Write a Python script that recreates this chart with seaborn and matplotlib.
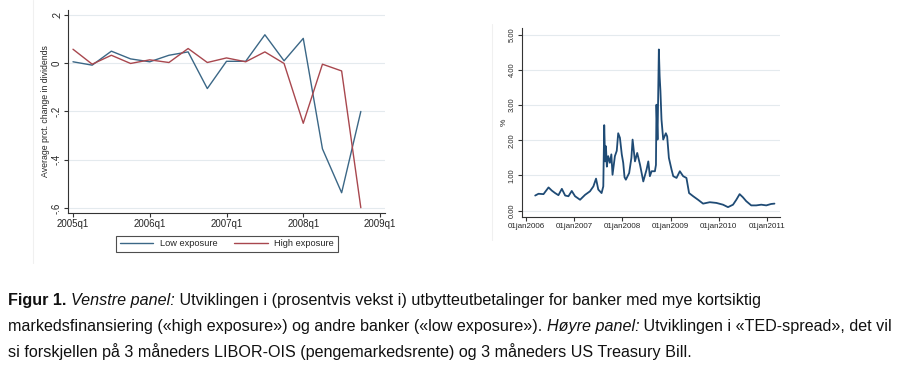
import numpy as np
import pandas as pd
import seaborn as sns
import matplotlib.pyplot as plt
import matplotlib.dates as mdates
from matplotlib.ticker import FuncFormatter
from matplotlib.lines import Line2D

# venstre panel: kvartalsvis endring i utbytte
quarters = list(range(16))  # 2005q1 .. 2008q4
low_exposure = [0.006, -0.008, 0.050, 0.018, 0.006, 0.033, 0.047, -0.105,
                0.008, 0.008, 0.118, 0.010, 0.103, -0.355, -0.537, -0.200]
high_exposure = [0.058, -0.004, 0.033, -0.001, 0.014, 0.003, 0.061, 0.003,
                 0.022, 0.006, 0.047, -0.001, -0.249, -0.004, -0.032, -0.599]
q_ticks = [0, 4, 8, 12, 16]
q_labels = ['2005q1', '2006q1', '2007q1', '2008q1', '2009q1']
y_ticks_left = [0.2, 0, -0.2, -0.4, -0.6]
y_labels_left = ['.2', '0', '-.2', '-.4', '-.6']

# høyre panel: TED-spread
ted_dates = ['2006-03-12', '2006-04-06', '2006-05-14', '2006-06-21', '2006-07-16',
             '2006-08-10', '2006-09-04', '2006-09-30', '2006-10-25', '2006-11-19',
             '2006-12-14', '2007-01-08', '2007-02-15', '2007-03-25', '2007-05-01',
             '2007-05-27', '2007-06-16', '2007-07-03', '2007-07-28', '2007-08-10',
             '2007-08-17', '2007-08-24', '2007-08-30', '2007-09-06', '2007-09-16',
             '2007-09-29', '2007-10-10', '2007-10-19', '2007-11-06', '2007-11-20',
             '2007-12-01', '2007-12-14', '2007-12-28', '2008-01-08', '2008-01-18',
             '2008-01-28', '2008-02-22', '2008-03-10', '2008-03-19', '2008-04-06',
             '2008-04-23', '2008-05-14', '2008-06-08', '2008-07-03', '2008-07-16',
             '2008-07-28', '2008-08-10', '2008-09-04', '2008-09-12', '2008-09-16',
             '2008-09-24', '2008-10-04', '2008-10-10', '2008-10-16', '2008-10-24',
             '2008-11-06', '2008-11-26', '2008-12-06', '2008-12-19', '2009-01-08',
             '2009-01-21', '2009-02-15', '2009-03-12', '2009-04-06', '2009-05-01',
             '2009-05-21', '2009-06-21', '2009-07-28', '2009-09-04', '2009-10-25',
             '2009-12-14', '2010-02-02', '2010-03-12', '2010-04-19', '2010-05-14',
             '2010-06-08', '2010-07-03', '2010-07-28', '2010-09-04', '2010-10-12',
             '2010-11-19', '2010-12-27', '2011-02-02', '2011-02-27']
ted_values = [0.43, 0.48, 0.47, 0.66, 0.57,
              0.50, 0.44, 0.62, 0.43, 0.41,
              0.56, 0.41, 0.31, 0.45, 0.55,
              0.69, 0.91, 0.60, 0.50, 0.69,
              2.43, 1.40, 1.83, 1.25, 1.55,
              1.36, 1.60, 1.02, 1.55, 1.70,
              2.20, 2.07, 1.60, 1.36, 0.95,
              0.88, 1.07, 1.50, 2.02, 1.40,
              1.64, 1.31, 0.83, 1.17, 1.40,
              0.98, 1.12, 1.12, 1.30, 3.01,
              2.02, 4.58, 3.82, 3.40, 2.59,
              2.02, 2.20, 2.11, 1.50, 1.17,
              0.98, 0.93, 1.12, 0.98, 0.93,
              0.50, 0.41, 0.31, 0.20, 0.24,
              0.22, 0.17, 0.10, 0.17, 0.31,
              0.47, 0.38, 0.27, 0.15, 0.15,
              0.17, 0.15, 0.19, 0.20]
y_ticks_right = [0, 1, 2, 3, 4, 5]

sns.set_style('white')
plt.rcParams['font.family'] = ['Liberation Sans', 'DejaVu Sans']

fig = plt.figure(figsize=(9.13, 3.70), dpi=100)
W, H = 913, 370


def ax_at(x0, y0, x1, y1):
    return fig.add_axes([x0 / W, 1 - y1 / H, (x1 - x0) / W, (y1 - y0) / H])


def px_line(x0, y0, x1, y1):
    fig.add_artist(Line2D([x0 / W, x1 / W], [1 - y0 / H, 1 - y1 / H],
                          color='#f0f0f0', lw=0.8, transform=fig.transFigure))


axis_col = '#333333'
grid_col = '#e4eaee'

# svake rammer rundt de innlimte grafene
px_line(33, 0, 33, 263)
px_line(492, 24, 492, 240)

# ---- venstre panel ----
ax1 = ax_at(68, 10, 385, 213)
df = pd.DataFrame({
    'q': quarters * 2,
    'val': low_exposure + high_exposure,
    'grp': ['Low exposure'] * 16 + ['High exposure'] * 16,
})
sns.lineplot(data=df, x='q', y='val', hue='grp', ax=ax1,
             palette={'Low exposure': '#3b6786', 'High exposure': '#a8474e'},
             linewidth=1.0, legend=False)
ax1.set_xlim(-0.26, 16.26)
ax1.set_ylim(-0.621, 0.2207)
ax1.set_xticks(q_ticks)
ax1.set_xticklabels(q_labels, fontsize=7)
ax1.set_yticks(y_ticks_left)
ax1.set_yticklabels(y_labels_left, fontsize=7, rotation=90, va='center')
ax1.set_xlabel('')
ax1.set_ylabel('Average prct. change in dividends', fontsize=6.3, labelpad=1)
for sp in ['top', 'right']:
    ax1.spines[sp].set_visible(False)
for sp in ['left', 'bottom']:
    ax1.spines[sp].set_color(axis_col)
    ax1.spines[sp].set_linewidth(0.8)
ax1.tick_params(axis='both', direction='out', length=3, width=0.8, color=axis_col, pad=1.5, bottom=True, left=True)
ax1.yaxis.grid(True, color=grid_col, linewidth=0.8)
ax1.set_axisbelow(True)

handles = [Line2D([], [], color='#3b6786', lw=1.0), Line2D([], [], color='#a8474e', lw=1.0)]
leg = fig.legend(handles, ['Low exposure', 'High exposure'], ncol=2,
                 loc='center', bbox_to_anchor=(227 / W, 1 - 244 / H),
                 fontsize=6.7, frameon=True, fancybox=False, handlelength=3.6,
                 columnspacing=1.8, borderpad=0.4, handletextpad=0.7,
                 borderaxespad=0)
leg.get_frame().set_edgecolor('#222222')
leg.get_frame().set_linewidth(0.8)

# ---- høyre panel ----
ax2 = ax_at(522, 28, 780, 217)
ted = pd.DataFrame({'date': pd.to_datetime(ted_dates), 'ted': ted_values})
sns.lineplot(data=ted, x='date', y='ted', ax=ax2, color='#1f4b75', linewidth=1.3)
ax2.set_xlim(pd.Timestamp('2005-12-02'), pd.Timestamp('2011-04-10'))
ax2.set_ylim(-0.18, 5.19)
ax2.set_yticks(y_ticks_right)
ax2.set_yticklabels(['%.2f' % v for v in y_ticks_right], fontsize=5.5, rotation=90, va='center')
xt = pd.to_datetime(['2006-01-01', '2007-01-01', '2008-01-01', '2009-01-01', '2010-01-01', '2011-01-01'])
ax2.set_xticks(xt)
ax2.xaxis.set_major_formatter(FuncFormatter(lambda v, p: mdates.num2date(v).strftime('%d%b%Y').lower()))
ax2.tick_params(axis='x', labelsize=5.8)
ax2.set_xlabel('')
ax2.set_ylabel('%', fontsize=6, labelpad=1)
for sp in ['top', 'right']:
    ax2.spines[sp].set_visible(False)
for sp in ['left', 'bottom']:
    ax2.spines[sp].set_color(axis_col)
    ax2.spines[sp].set_linewidth(0.8)
ax2.tick_params(axis='both', direction='out', length=3, width=0.8, color=axis_col, pad=1.5, bottom=True, left=True)
ax2.yaxis.grid(True, color=grid_col, linewidth=0.8)
ax2.set_axisbelow(True)

# ---- figurtekst ----
cap_font = ['Liberation Sans', 'DejaVu Sans']
cap_size = 11.65
caption = [
    [('Figur 1.', 'bold'), (' ', 'normal'), ('Venstre panel:', 'italic'),
     (' Utviklingen i (prosentvis vekst i) utbytteutbetalinger for banker med mye kortsiktig', 'normal')],
    [('markedsfinansiering («high exposure») og andre banker («low exposure»). ', 'normal'),
     ('Høyre panel:', 'italic'), (' Utviklingen i «TED-spread», det vil', 'normal')],
    [('si forskjellen på 3 måneders LIBOR-OIS (pengemarkedsrente) og 3 måneders US Treasury Bill.', 'normal')],
]
baselines = [305, 331, 357]
renderer = fig.canvas.get_renderer()
for parts, yb in zip(caption, baselines):
    x = 8 / W
    for s, st in parts:
        t = fig.text(x, 1 - yb / H, s, fontsize=cap_size, family=cap_font,
                     fontweight='bold' if st == 'bold' else 'normal',
                     fontstyle='italic' if st == 'italic' else 'normal',
                     va='baseline', ha='left', color='#111111')
        bb = t.get_window_extent(renderer)
        x += bb.width / W

plt.savefig('out.png', dpi=100)
